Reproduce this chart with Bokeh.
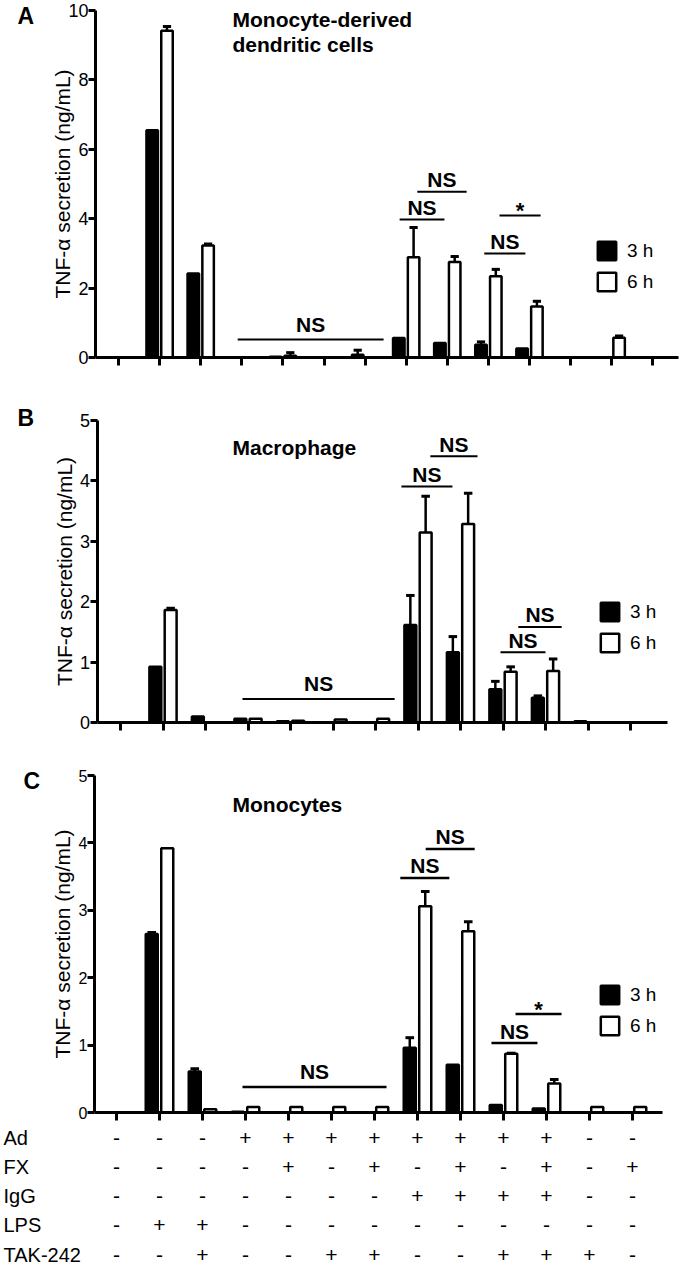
from bokeh.plotting import figure
from bokeh.layouts import column
from bokeh.models import Range1d, FixedTicker, Legend, LegendItem
from bokeh.core.properties import value
from bokeh.embed import file_html
from bokeh.resources import INLINE

FONT = "Liberation Sans"
W = 680

# ---------------- data ----------------
groups = list(range(1, 14))
series_labels = ["3 h", "6 h"]
yaxis_label = "TNF-\u03b1 secretion (ng/mL)"

row_labels = ["Ad", "FX", "IgG", "LPS", "TAK-242"]
ad_row = ["-", "-", "-", "+", "+", "+", "+", "+", "+", "+", "+", "-", "-"]
fx_row = ["-", "-", "-", "-", "+", "-", "+", "-", "+", "-", "+", "-", "+"]
igg_row = ["-", "-", "-", "-", "-", "-", "-", "+", "+", "+", "+", "-", "-"]
lps_row = ["-", "+", "+", "-", "-", "-", "-", "-", "-", "-", "-", "-", "-"]
tak_row = ["-", "-", "+", "-", "-", "+", "+", "-", "-", "+", "+", "+", "-"]

# Panel A: monocyte-derived dendritic cells
a_title = ["Monocyte-derived", "dendritic cells"]
a_yticks = [0, 2, 4, 6, 8, 10]
a_3h = [0, 6.55, 2.42, 0.01, 0.02, 0, 0.08, 0.56, 0.42, 0.37, 0.26, 0.01, 0]
a_3h_err = [0, 0, 0, 0, 0, 0, 0.13, 0, 0, 0.08, 0, 0, 0]
a_6h = [0, 9.42, 3.23, 0.01, 0.05, 0, 0, 2.89, 2.75, 2.34, 1.47, 0, 0.57]
a_6h_err = [0, 0.12, 0.04, 0, 0.09, 0, 0, 0.86, 0.16, 0.20, 0.15, 0, 0.05]
a_sig_text = ["NS", "NS", "NS", "NS", "*"]
a_sig_x0 = [3.90, 7.84, 8.27, 9.90, 10.27]
a_sig_x1 = [7.45, 8.93, 9.47, 10.90, 11.27]
a_sig_y = [0.52, 3.98, 4.78, 3.00, 4.09]

# Panel B: macrophage
b_title = ["Macrophage"]
b_yticks = [0, 1, 2, 3, 4, 5]
b_3h = [0, 0.92, 0.10, 0.06, 0.02, 0, 0, 1.61, 1.16, 0.55, 0.41, 0.02, 0]
b_3h_err = [0, 0, 0, 0, 0, 0, 0, 0.49, 0.26, 0.13, 0.03, 0, 0]
b_6h = [0, 1.86, 0, 0.06, 0.03, 0.05, 0.06, 3.14, 3.28, 0.84, 0.85, 0, 0]
b_6h_err = [0, 0.03, 0, 0, 0, 0, 0, 0.60, 0.51, 0.08, 0.20, 0, 0]
b_sig_text = ["NS", "NS", "NS", "NS", "NS"]
b_sig_x0 = [3.87, 7.61, 8.29, 9.94, 10.36]
b_sig_x1 = [7.45, 8.81, 9.40, 11.00, 11.38]
b_sig_y = [0.39, 3.90, 4.40, 1.16, 1.58]

# Panel C: monocytes
c_title = ["Monocytes"]
c_yticks = [0, 1, 2, 3, 4, 5]
c_3h = [0, 2.65, 0.61, 0.01, 0, 0, 0, 0.96, 0.71, 0.11, 0.06, 0, 0]
c_3h_err = [0, 0.02, 0.04, 0, 0, 0, 0, 0.15, 0, 0, 0, 0, 0]
c_6h = [0, 3.92, 0.05, 0.08, 0.08, 0.08, 0.08, 3.06, 2.69, 0.87, 0.43, 0.08, 0.08]
c_6h_err = [0, 0, 0, 0, 0, 0, 0, 0.22, 0.14, 0.01, 0.06, 0, 0]
c_sig_text = ["NS", "NS", "NS", "NS", "*"]
c_sig_x0 = [3.93, 7.60, 8.19, 9.72, 10.28]
c_sig_x1 = [7.28, 8.74, 9.33, 10.79, 11.35]
c_sig_y = [0.38, 3.48, 3.91, 1.03, 1.46]


# ---------------- helpers ----------------
def draw_err(p, xs, tops, errs):
    xe = [x for x, e in zip(xs, errs) if e > 0]
    y0 = [t for t, e in zip(tops, errs) if e > 0]
    y1 = [t + e for t, e in zip(tops, errs) if e > 0]
    if not xe:
        return
    p.segment(x0=xe, y0=y0, x1=xe, y1=y1, line_color="black", line_width=2.5)
    p.segment(x0=[x - 0.1 for x in xe], y0=y1, x1=[x + 0.1 for x in xe], y1=y1,
              line_color="black", line_width=3)


def make_panel(vgeo, hgeo, ymax, yticks, n_ticks, v3, e3, v6, e6,
               sig_text, sig_x0, sig_x1, sig_y, sig_lw, title, title_px,
               letter, letter_px, legend_px, tick_font, label_standoff):
    fig_top, ymax_px, zero_px, fig_bottom = vgeo
    tick0, step, yaxis_px, xaxis_end_px = hgeo
    scale = (zero_px - ymax_px) / ymax

    def to_x(px):
        return 1 + (px - tick0) / step

    def to_y(py):
        return (zero_px - py) / scale

    p = figure(width=W, height=fig_bottom - fig_top,
               x_range=Range1d(to_x(0), to_x(W)),
               y_range=Range1d(to_y(fig_bottom), to_y(fig_top)),
               output_backend="svg", toolbar_location=None, title=None,
               min_border_top=0, min_border_bottom=0, min_border_left=0, min_border_right=0)
    p.grid.visible = False
    p.outline_line_color = None

    x3 = [g - 0.18 for g in groups]
    x6 = [g + 0.18 for g in groups]
    r3 = p.vbar(x=x3, top=v3, width=0.28, fill_color="black", line_color="black", line_width=2.5)
    r6 = p.vbar(x=x6, top=v6, width=0.28, fill_color="white", line_color="black", line_width=2.5)
    draw_err(p, x3, v3, e3)
    draw_err(p, x6, v6, e6)

    # significance brackets
    p.segment(x0=sig_x0, y0=sig_y, x1=sig_x1, y1=sig_y, line_color="black", line_width=sig_lw)
    mids = [(a + b) / 2 for a, b in zip(sig_x0, sig_x1)]
    ns_idx = [i for i, t in enumerate(sig_text) if t != "*"]
    st_idx = [i for i, t in enumerate(sig_text) if t == "*"]
    if ns_idx:
        long_idx = max(ns_idx, key=lambda i: sig_x1[i] - sig_x0[i])
        p.text(x=[mids[i] for i in ns_idx],
               y=[sig_y[i] + (15 if i == long_idx else 12) / scale for i in ns_idx],
               text=[sig_text[i] for i in ns_idx],
               text_font=value(FONT), text_font_style="bold", text_font_size="21px",
               text_align="center", text_baseline="middle", text_color="black")
    if st_idx:
        p.text(x=[mids[i] for i in st_idx], y=[sig_y[i] + 5 / scale for i in st_idx],
               text=[sig_text[i] for i in st_idx],
               text_font=value(FONT), text_font_style="bold", text_font_size="22px",
               text_align="center", text_baseline="middle", text_color="black")

    # panel title (glyph centres)
    p.text(x=[to_x(title_px[0])] * len(title), y=[to_y(c) for c in title_px[1]], text=title,
           text_font=value(FONT), text_font_style="bold", text_font_size="21px",
           text_align="left", text_baseline="middle", text_color="black")

    # panel letter
    p.text(x=[to_x(letter_px[0])], y=[to_y(letter_px[1])], text=[letter],
           text_font=value(FONT), text_font_style="bold", text_font_size="23px",
           text_align="left", text_baseline="middle", text_color="black")

    # legend
    leg = Legend(items=[LegendItem(label=series_labels[0], renderers=[r3]),
                        LegendItem(label=series_labels[1], renderers=[r6])],
                 location=(legend_px[0], fig_bottom - legend_px[1]),
                 glyph_width=23, glyph_height=23, label_height=23,
                 label_text_font=FONT, label_text_font_size="19px", label_text_color="black",
                 label_standoff=9, spacing=8, padding=0, margin=0, border_line_color=None,
                 background_fill_alpha=0)
    p.add_layout(leg)

    # x axis drawn at y = 0 (ticks only, no labels)
    xticks = list(range(1, n_ticks + 1))
    p.xaxis.fixed_location = 0
    p.xaxis.ticker = FixedTicker(ticks=xticks)
    p.xaxis.major_label_overrides = {t: "" for t in xticks}
    p.xaxis.bounds = (to_x(yaxis_px), to_x(xaxis_end_px))
    p.xaxis.major_label_standoff = 0
    p.xaxis.major_tick_out = 8
    p.xaxis.major_tick_in = 0
    p.xaxis.minor_tick_line_color = None

    # y axis drawn at its own x position
    p.yaxis.fixed_location = to_x(yaxis_px)
    p.yaxis.bounds = (0, ymax)
    p.yaxis.ticker = FixedTicker(ticks=yticks)
    p.yaxis.axis_label = yaxis_label
    p.yaxis.axis_label_text_font = FONT
    p.yaxis.axis_label_text_font_style = "normal"
    p.yaxis.axis_label_text_font_size = "21px"
    p.yaxis.axis_label_standoff = label_standoff
    p.yaxis.major_label_text_font = FONT
    p.yaxis.major_label_text_font_size = tick_font
    p.yaxis.major_label_standoff = 0
    p.yaxis.major_tick_out = 7
    p.yaxis.major_tick_in = 0
    p.yaxis.minor_tick_line_color = None

    p.axis.axis_line_width = 3
    p.axis.major_tick_line_width = 3
    p.axis.axis_line_color = "black"
    p.axis.major_tick_line_color = "black"
    p.axis.major_label_text_color = "black"
    p.axis.axis_label_text_color = "black"
    return p


pA = make_panel((0, 10, 357, 405), (118, 41.1, 95, 678), 10, a_yticks, 14,
                a_3h, a_3h_err, a_6h, a_6h_err,
                a_sig_text, a_sig_x0, a_sig_x1, a_sig_y, 2,
                a_title, (232, [18.5, 43.5]), "A", (17, 15.5), (595, 293), "18px", -9)

pB = make_panel((405, 419.5, 722, 765), (120, 42.5, 96.5, 667), 5, b_yticks, 13,
                b_3h, b_3h_err, b_6h, b_6h_err,
                b_sig_text, b_sig_x0, b_sig_x1, b_sig_y, 2,
                b_title, (232, [447]), "B", (17, 417), (598, 654), "18px", 1)

pC = make_panel((765, 775, 1112, 1122), (116, 43.0, 94, 662), 5, c_yticks, 13,
                c_3h, c_3h_err, c_6h, c_6h_err,
                c_sig_text, c_sig_x0, c_sig_x1, c_sig_y, 2.5,
                c_title, (232, [804]), "C", (23, 780), (598, 1037), "16px", 2)

# treatment table below panel C (same group positions as panel C)
t_tick0, t_step = 116, 43.0
t_row0, t_row_step, t_top, t_bottom = 1137, 29.25, 1122, 1264
pD = figure(width=W, height=t_bottom - t_top,
            x_range=Range1d(1 + (0 - t_tick0) / t_step, 1 + (W - t_tick0) / t_step),
            y_range=Range1d((t_bottom - t_row0) / t_row_step, (t_top - t_row0) / t_row_step),
            output_backend="svg", toolbar_location=None, title=None,
            x_axis_location=None, y_axis_location=None,
            min_border_top=0, min_border_bottom=0, min_border_left=0, min_border_right=0)
pD.grid.visible = False
pD.outline_line_color = None
for r, row in enumerate([ad_row, fx_row, igg_row, lps_row, tak_row]):
    pD.text(x=groups, y=[r] * len(groups), text=row, text_font=value(FONT), text_font_size="21px",
            text_align="center", text_baseline="middle", text_color="black")
pD.text(x=[1 + (3 - t_tick0) / t_step] * len(row_labels), y=list(range(len(row_labels))),
        text=row_labels, text_font=value(FONT), text_font_size="20px", text_align="left",
        text_baseline="middle", text_color="black")

layout = column(pA, pB, pC, pD, spacing=0)
open("out.html", "w").write(file_html(layout, INLINE))
